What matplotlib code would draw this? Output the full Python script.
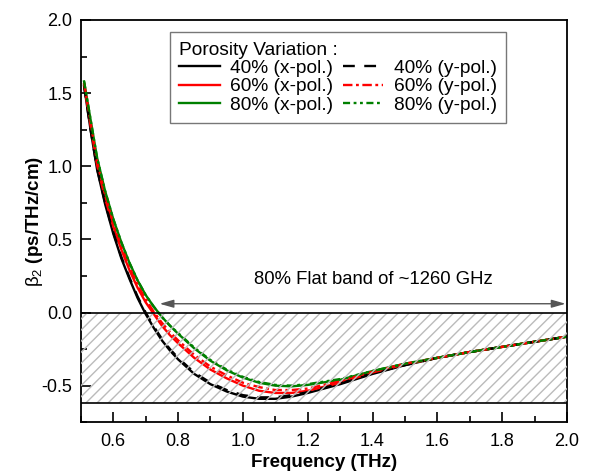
import matplotlib
matplotlib.use("Agg")
import numpy as np
from matplotlib import pyplot as plt
from matplotlib.ticker import MultipleLocator

plt.rcParams['font.family'] = ['Liberation Sans', 'DejaVu Sans']
plt.rcParams['mathtext.fontset'] = 'custom'
plt.rcParams['mathtext.rm'] = 'Liberation Sans'
plt.rcParams['mathtext.it'] = 'Liberation Sans:italic'
plt.rcParams['mathtext.bf'] = 'Liberation Sans:bold'
plt.rcParams['axes.unicode_minus'] = False

## frequency samples (THz)
freq = [0.51, 0.53, 0.55, 0.575, 0.60, 0.625, 0.65, 0.675, 0.70, 0.725, 0.75, 0.775, 0.80,
        0.85, 0.90, 0.95, 1.00, 1.05, 1.10, 1.15, 1.20, 1.30, 1.40, 1.50, 1.60, 1.70,
        1.80, 1.90, 2.00]

## beta2 (ps/THz/cm)
b40_x = [1.55, 1.25, 0.98, 0.74, 0.54, 0.37, 0.23, 0.10, -0.01, -0.105, -0.19, -0.26, -0.32,
         -0.42, -0.49, -0.54, -0.575, -0.59, -0.59, -0.575, -0.55, -0.49, -0.42, -0.36,
         -0.31, -0.27, -0.235, -0.20, -0.165]
b40_y = [1.55, 1.25, 0.985, 0.75, 0.55, 0.38, 0.24, 0.11, 0.00, -0.095, -0.18, -0.25, -0.31,
         -0.41, -0.48, -0.53, -0.565, -0.58, -0.58, -0.565, -0.545, -0.485, -0.415, -0.36,
         -0.31, -0.27, -0.235, -0.20, -0.165]
b60_x = [1.56, 1.28, 1.01, 0.78, 0.59, 0.43, 0.29, 0.17, 0.07, -0.01, -0.09, -0.155, -0.21,
         -0.31, -0.39, -0.45, -0.50, -0.535, -0.55, -0.55, -0.535, -0.48, -0.41, -0.355,
         -0.31, -0.27, -0.235, -0.20, -0.165]
b60_y = [1.57, 1.30, 1.03, 0.80, 0.61, 0.45, 0.31, 0.19, 0.09, 0.005, -0.07, -0.135, -0.19,
         -0.29, -0.37, -0.43, -0.48, -0.51, -0.53, -0.53, -0.52, -0.47, -0.405, -0.35,
         -0.31, -0.27, -0.235, -0.20, -0.165]
b80_x = [1.58, 1.32, 1.06, 0.83, 0.64, 0.48, 0.34, 0.22, 0.12, 0.04, -0.03, -0.09, -0.145,
         -0.245, -0.33, -0.395, -0.445, -0.48, -0.50, -0.505, -0.495, -0.46, -0.40, -0.35,
         -0.31, -0.27, -0.235, -0.20, -0.165]
b80_y = [1.58, 1.32, 1.06, 0.83, 0.64, 0.48, 0.34, 0.22, 0.12, 0.04, -0.03, -0.09, -0.14,
         -0.24, -0.325, -0.39, -0.44, -0.475, -0.495, -0.50, -0.49, -0.455, -0.40, -0.35,
         -0.31, -0.27, -0.235, -0.20, -0.165]

band_top = 0.0
band_bottom = -0.62
arrow_start = 0.743
arrow_end = 2.0
arrow_level = 0.06
band_text = "80% Flat band of ~1260 GHz"

fig = plt.figure(figsize=(5.9, 4.76), dpi=100)
ax = fig.add_axes([0.137, 0.113, 0.824, 0.845])

# hatched flat-band region
ax.axhspan(band_bottom, band_top, facecolor='none', edgecolor='#bbbbbb',
           hatch='///', linewidth=0, zorder=3)
ax.axhline(band_top, color='black', lw=1.2, zorder=4)
ax.axhline(band_bottom, color='black', lw=1.2, zorder=4)

lw = 1.7
ax.plot(freq, b40_x, color='black', lw=lw, label='40% (x-pol.)', zorder=2)
ax.plot(freq, b60_x, color='red', lw=lw, label='60% (x-pol.)', zorder=2)
ax.plot(freq, b80_x, color='green', lw=lw, label='80% (x-pol.)', zorder=2)
ax.plot(freq, b40_y, color='black', lw=lw, dashes=(5, 4), label='40% (y-pol.)', zorder=2)
ax.plot(freq, b60_y, color='red', lw=lw, dashes=(4, 1.5, 1.2, 1.5), label='60% (y-pol.)', zorder=2)
ax.plot(freq, b80_y, color='green', lw=lw, dashes=(3, 1.5, 1.2, 1.5, 1.2, 1.5),
        label='80% (y-pol.)', zorder=2)

ax.annotate('', xy=(arrow_end, arrow_level), xytext=(arrow_start, arrow_level),
            arrowprops=dict(arrowstyle='<|-|>,head_length=0.7,head_width=0.2',
                            color='#555555', lw=1.0, mutation_scale=12,
                            shrinkA=0, shrinkB=1))
ax.text(1.404, 0.225, band_text, ha='center', va='center', fontsize=13.3)

ax.set_xlim(0.5, 2.0)
ax.set_ylim(-0.75, 2.0)
ax.set_xticks([0.6, 0.8, 1.0, 1.2, 1.4, 1.6, 1.8, 2.0])
ax.xaxis.set_minor_locator(MultipleLocator(0.1))
ax.yaxis.set_major_locator(MultipleLocator(0.5))
ax.yaxis.set_minor_locator(MultipleLocator(0.25))
ax.tick_params(which='both', direction='in', top=False, right=False, labelsize=13, width=1.2)
ax.tick_params(which='major', length=7)
ax.tick_params(which='minor', length=4)
ax.tick_params(axis='x', pad=8)
ax.tick_params(axis='y', pad=6)
for s in ax.spines.values():
    s.set_linewidth(1.3)

ax.set_xlabel('Frequency (THz)', fontsize=13.5, fontweight='bold')
ax.set_ylabel(r'$\mathrm{\beta_2}$ (ps/THz/cm)', fontsize=13.5, fontweight='bold')
ax.xaxis.set_label_coords(0.5, -0.08)
ax.yaxis.set_label_coords(-0.074, 0.5)

leg = ax.legend(ncol=2, loc='upper left', bbox_to_anchor=(0.183, 0.97), borderaxespad=0,
                title='Porosity Variation :', alignment='left', fontsize=13.8,
                title_fontsize=13.8, fancybox=False, framealpha=1, edgecolor='#777777',
                handlelength=2.1, handletextpad=0.55, columnspacing=0.5,
                labelspacing=0.05, borderpad=0.5)
leg.get_frame().set_linewidth(1.0)

fig.savefig('out.png', dpi=100)
